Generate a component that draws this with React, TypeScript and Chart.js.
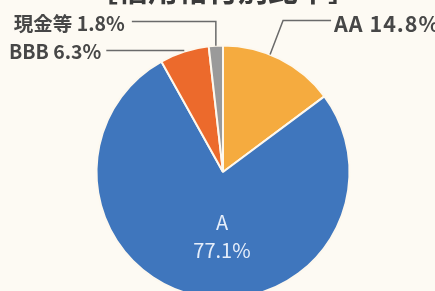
import React, { useEffect, useRef } from "react";
import { Chart, registerables } from "chart.js";

Chart.register(...registerables);

const categories = ["AA", "A", "BBB", "現金等"];
const values = [14.8, 77.1, 6.3, 1.8];
const colors = ["#f5ab3f", "#3f76bd", "#ec6a2c", "#9a9a9a"];
const title = "［信用格付別比率］";

const FONT = '"Noto Sans CJK JP", "Noto Sans", sans-serif';

const labelPlugin = {
  id: "labels",
  beforeDraw(chart: any) {
    const ctx = chart.ctx;
    ctx.save();
    ctx.fillStyle = "#fdfaf3";
    ctx.fillRect(0, 0, chart.width, chart.height);
    ctx.restore();
  },
  afterDraw(chart: any) {
    const ctx = chart.ctx;
    const meta = chart.getDatasetMeta(0);
    const arcs = meta.data.map((el: any) =>
      el.getProps(["x", "y", "startAngle", "endAngle", "outerRadius"], true)
    );
    const cx = arcs[0].x;
    const cy = arcs[0].y;
    const r = arcs[0].outerRadius;
    const pt = (a: any, frac: number, rad: number) => {
      const ang = a.startAngle + (a.endAngle - a.startAngle) * frac;
      return { x: a.x + Math.cos(ang) * rad, y: a.y + Math.sin(ang) * rad };
    };
    ctx.save();
    // title
    ctx.fillStyle = "#3a3a3a";
    ctx.font = `bold 30px ${FONT}`;
    ctx.textAlign = "center";
    ctx.textBaseline = "alphabetic";
    ctx.fillText(title, cx, 0.5);

    ctx.strokeStyle = "#6a6a6a";
    ctx.lineWidth = 1.5;
    ctx.fillStyle = "#474747";
    ctx.textBaseline = "middle";

    // AA
    const pAA = pt(arcs[0], 0.41, r);
    const elbowY = cy - r - 25;
    ctx.beginPath();
    ctx.moveTo(pAA.x, pAA.y);
    ctx.lineTo(pAA.x + 13, elbowY);
    ctx.lineTo(pAA.x + 61, elbowY);
    ctx.stroke();
    ctx.textAlign = "left";
    ctx.font = `bold 21.5px ${FONT}`;
    (ctx as any).letterSpacing = "1px";
    ctx.fillText(`${categories[0]} ${values[0]}%`, pAA.x + 64, elbowY + 3);
    (ctx as any).letterSpacing = "0px";

    ctx.font = `bold 19.5px ${FONT}`;
    // 現金等
    const pC = pt(arcs[3], 0.5, r);
    const cY = cy - r - 24;
    ctx.beginPath();
    ctx.moveTo(pC.x, pC.y);
    ctx.lineTo(pC.x, cY);
    ctx.lineTo(pC.x - 84, cY);
    ctx.stroke();
    ctx.textAlign = "right";
    ctx.fillText(`${categories[3]} ${values[3]}%`, pC.x - 91, cY + 2);

    // BBB
    const pB = pt(arcs[2], 0.5, r);
    ctx.beginPath();
    ctx.moveTo(pB.x, pB.y - 1);
    ctx.lineTo(pB.x - 78, pB.y - 1);
    ctx.stroke();
    ctx.fillText(`${categories[2]} ${values[2]}%`, pB.x - 83, pB.y);

    // A inside
    ctx.fillStyle = "#e6eefa";
    ctx.font = `20px ${FONT}`;
    ctx.textAlign = "center";
    ctx.fillText(categories[1], cx - 1, cy + 50);
    ctx.fillText(`${values[1]}%`, cx - 1, cy + 78);
    ctx.restore();
  },
};

export default function App() {
  const ref = useRef<HTMLCanvasElement>(null);
  useEffect(() => {
    document.body.style.margin = "0";
    const chart = new Chart(ref.current!, {
      type: "pie",
      data: {
        labels: categories,
        datasets: [
          {
            data: values,
            backgroundColor: colors,
            borderColor: "#fdf8ee",
            borderWidth: 2,
          },
        ],
      },
      options: {
        responsive: false,
        animation: false,
        layout: { padding: { top: 44.5, bottom: 10.5, left: 95.5, right: 84.5 } },
        plugins: {
          legend: { display: false },
          tooltip: { enabled: false },
          title: { display: false },
        },
      },
      plugins: [labelPlugin],
    });
    return () => chart.destroy();
  }, []);
  return (
    <div style={{ width: 435, height: 291, overflow: "hidden", background: "#fdfaf3" }}>
      <canvas ref={ref} width={435} height={310} style={{ display: "block" }} />
    </div>
  );
}
